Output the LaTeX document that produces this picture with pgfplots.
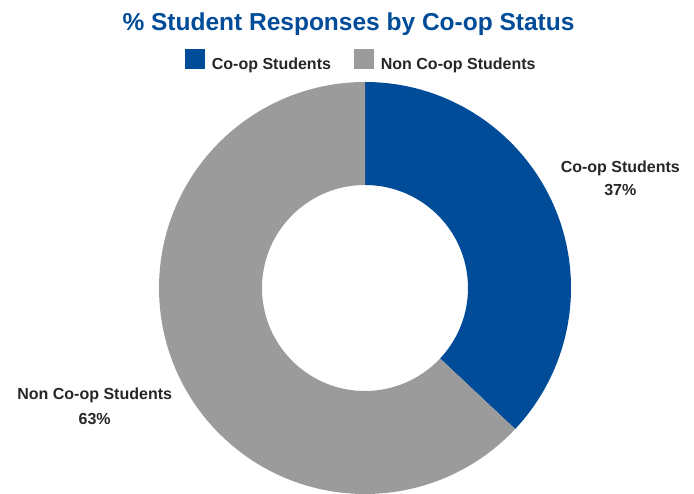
\documentclass[border=0pt]{standalone}
\usepackage{fontspec}
\setmainfont{Liberation Sans}
\usepackage{pgfplots}
\usepackage{pgfplotstable}
\pgfplotsset{compat=1.18}
\usetikzlibrary{calc}
\definecolor{coopblue}{HTML}{004C99}
\definecolor{noncoop}{HTML}{9B9B9B}
\definecolor{txt}{HTML}{262626}
\pgfplotstableread{
label value
Co-op 37
NonCo-op 63
}\shares
\begin{document}
\begin{tikzpicture}
\pgfplotstablegetelem{0}{value}\of\shares \edef\va{\pgfplotsretval}
\pgfplotstablegetelem{1}{value}\of\shares \edef\vb{\pgfplotsretval}
\pgfmathsetmacro{\ea}{90-3.6*\va}
\begin{axis}[
  width=694bp, height=494bp, scale only axis,
  xmin=0, xmax=694, ymin=0, ymax=494,
  hide axis, clip=false,
  legend columns=2,
  legend style={draw=none, fill=none, at={(axis cs:185,434)}, anchor=west,
    inner sep=0pt, outer sep=0pt,
    font=\bfseries\fontsize{16bp}{19bp}\selectfont, text=txt,
    nodes={inner sep=0pt},
    /tikz/every odd column/.append style={column sep=7.5bp},
    /tikz/every even column/.append style={column sep=23bp}},
]
\addlegendimage{legend image code/.code={\fill[coopblue] (0bp,-4.5bp) rectangle (19bp,14.5bp);}}
\addlegendentry{Co-op Students}
\addlegendimage{legend image code/.code={\fill[noncoop] (0bp,-4.5bp) rectangle (19bp,14.5bp);}}
\addlegendentry{Non Co-op Students}
% donut
\fill[coopblue] (axis cs:365,206) ++(90:206bp) arc[start angle=90,end angle=\ea,radius=206bp]
  -- ($(axis cs:365,206)+(\ea:103bp)$) arc[start angle=\ea,end angle=90,radius=103bp] -- cycle;
\fill[noncoop] ($(axis cs:365,206)+(\ea:206bp)$) arc[start angle=\ea,end angle=-270,radius=206bp]
  -- ($(axis cs:365,206)+(90:103bp)$) arc[start angle=-270,end angle=\ea,radius=103bp] -- cycle;
% title
\node[anchor=base, text=coopblue, font=\bfseries\fontsize{24.5bp}{28bp}\selectfont, inner sep=0pt]
  at (axis cs:348.5,463.3) {\% Student Responses by Co-op Status};
% labels
\node[anchor=base, text=txt, font=\bfseries\fontsize{16bp}{19bp}\selectfont, inner sep=0pt]
  at (axis cs:620.3,321) {Co-op Students};
\node[anchor=base, text=txt, font=\bfseries\fontsize{16bp}{19bp}\selectfont, inner sep=0pt]
  at (axis cs:620.3,298) {37\%};
\node[anchor=base, text=txt, font=\bfseries\fontsize{16bp}{19bp}\selectfont, inner sep=0pt]
  at (axis cs:94.7,94) {Non Co-op Students};
\node[anchor=base, text=txt, font=\bfseries\fontsize{16bp}{19bp}\selectfont, inner sep=0pt]
  at (axis cs:94.7,70) {63\%};
\end{axis}
\pgfresetboundingbox
\useasboundingbox (current axis.south west) rectangle (current axis.north east);
\end{tikzpicture}
\end{document}
